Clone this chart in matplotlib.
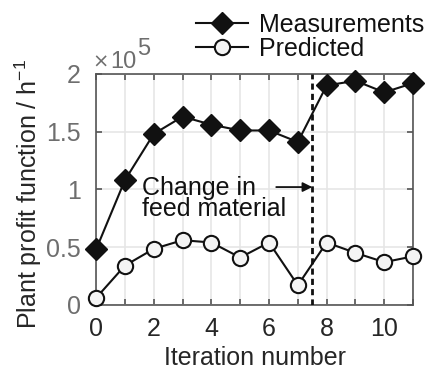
import matplotlib
matplotlib.use("Agg")
import matplotlib.pyplot as plt
import numpy as np

plt.rcParams['font.family'] = ['Liberation Sans', 'DejaVu Sans']
plt.rcParams['mathtext.fontset'] = 'custom'
plt.rcParams['mathtext.rm'] = 'Liberation Sans'

iterations = list(range(12))
measurements = [0.48, 1.08, 1.48, 1.63, 1.56, 1.51, 1.51, 1.41, 1.90, 1.94, 1.84, 1.92]
predicted = [0.06, 0.34, 0.485, 0.56, 0.54, 0.41, 0.54, 0.17, 0.54, 0.45, 0.37, 0.42]
change_x = 7.5
xticks = [0, 2, 4, 6, 8, 10]
yticks = [0, 0.5, 1, 1.5, 2]
ytick_labels = ['0', '0.5', '1', '1.5', '2']

W, H = 429, 375
fig = plt.figure(figsize=(W / 100, H / 100), dpi=100)
ax = fig.add_axes([0.224, 0.187, 0.739, 0.616])

axis_col = '#555555'
fs = 18

ax.set_xlim(0, 11)
ax.set_ylim(0, 2)
ax.set_xticks(xticks)
ax.set_xticks(range(12), minor=True)
ax.set_yticks(yticks)
ax.set_yticklabels(ytick_labels)
ax.grid(True, which='both', axis='x', color='#e6e6e6', lw=1.2, zorder=0)
ax.grid(True, which='major', axis='y', color='#e6e6e6', lw=1.2, zorder=0)
ax.set_axisbelow(True)
for s in ax.spines.values():
    s.set_color(axis_col)
    s.set_linewidth(1.2)
ax.tick_params(which='both', direction='in', top=True, right=True, length=4,
               color=axis_col, width=1.2)
ax.tick_params(axis='x', labelsize=fs, labelcolor='#262626', pad=9)
ax.tick_params(axis='y', labelsize=fs, labelcolor='#6e6e6e', pad=11)

l1, = ax.plot(iterations, measurements, '-', color='#111111', lw=1.5,
              marker='D', ms=11, mfc='#111111', mec='#111111',
              label='Measurements', zorder=4, clip_on=False)
l2, = ax.plot(iterations, predicted, '-', color='#111111', lw=1.5,
              marker='o', ms=11, mfc='#f4f4f4', mec='#111111', mew=1.5,
              label='Predicted', zorder=4, clip_on=False)

ax.axvline(change_x, color='#111111', ls=(0, (2.2, 1.5)), lw=2, zorder=3)
ax.annotate('', xy=(change_x, 1.02), xytext=(6.25, 1.02),
            arrowprops=dict(arrowstyle='-|>', color='#111111', lw=1.3,
                            mutation_scale=14, shrinkA=0, shrinkB=0), zorder=5)
ax.text(1.6, 0.92, 'Change in\nfeed material', fontsize=fs, color='#111111',
        ha='left', va='center', linespacing=0.88, zorder=5)

ax.set_xlabel('Iteration number', fontsize=fs, color='#262626', labelpad=3)
ax.set_ylabel('Plant profit function / h$^{\\mathregular{-1}}$', fontsize=fs,
              color='#262626')
ax.yaxis.set_label_coords(-0.165, 0.48)

# exponent label (x10^5)
gray = '#6e6e6e'
fig.text(100.5 / W, 1 - 62 / H, '\u00d7', fontsize=14, color=gray, va='center',
         ha='center', family=['DejaVu Sans'])
fig.text(110 / W, 1 - 68 / H, '10', fontsize=17, color=gray, va='baseline', ha='left')
fig.text(137 / W, 1 - 55 / H, '5', fontsize=17, color=gray, va='baseline', ha='left')

leg = fig.legend(handles=[l1, l2], loc='upper right', bbox_to_anchor=(1.019, 1.0),
                 frameon=False, fontsize=fs, handlelength=2.1, handletextpad=0.45,
                 labelspacing=0.0, borderaxespad=0.1)
for t in leg.get_texts():
    t.set_color('#111111')

fig.savefig('out.png', dpi=100)
